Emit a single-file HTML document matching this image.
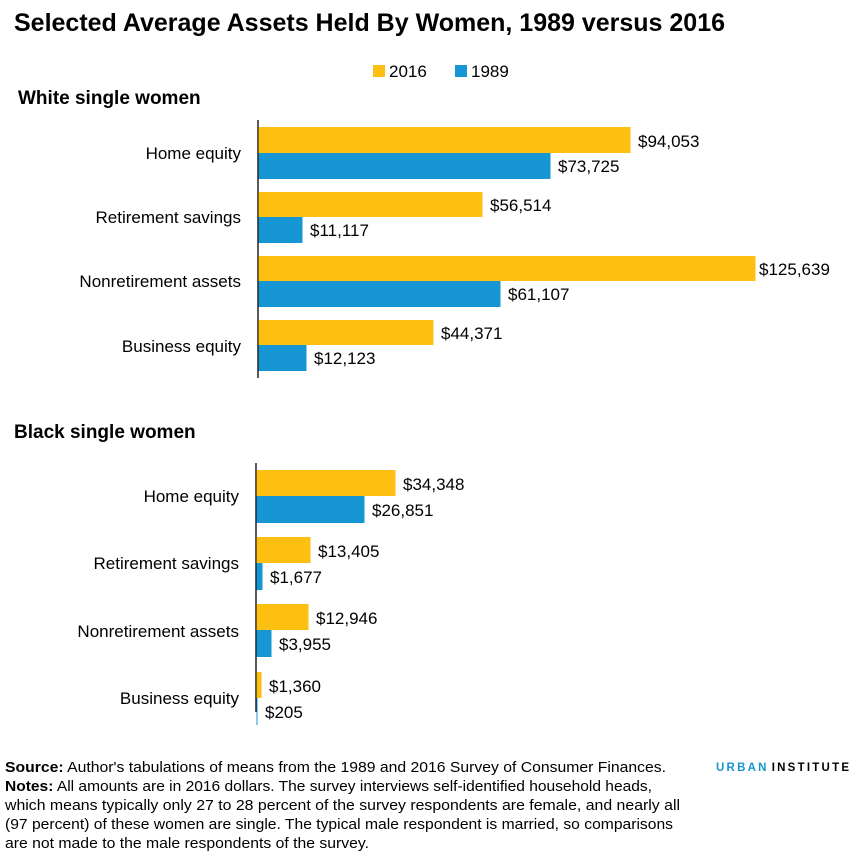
<!DOCTYPE html>
<html><head><meta charset="utf-8"><style>
body{margin:0;background:#fff;}
svg text{font-family:"Liberation Sans",sans-serif;}
</style></head><body>
<svg width="859" height="863" xmlns="http://www.w3.org/2000/svg">
<text x="14" y="31" font-size="25" font-weight="bold" fill="#000">Selected Average Assets Held By Women, 1989 versus 2016</text>
<rect x="373" y="65" width="12" height="12" fill="#fdbf11"/><text x="389" y="77" font-size="17">2016</text>
<rect x="455" y="65" width="12" height="12" fill="#1696d2"/><text x="471" y="77" font-size="17">1989</text>
<text x="18" y="104" font-size="19" font-weight="bold">White single women</text>
<g font-size="17" fill="#000">
<line x1="258" y1="120" x2="258" y2="378" stroke="#000" stroke-width="1.3"/>
<rect x="258.5" y="127" width="372" height="26" fill="#fdbf11"/><rect x="258.5" y="153" width="292" height="26" fill="#1696d2"/>
<text x="638" y="147">$94,053</text><text x="558" y="172">$73,725</text>
<text x="241" y="159" text-anchor="end">Home equity</text>
<rect x="258.5" y="192" width="224" height="25" fill="#fdbf11"/><rect x="258.5" y="217" width="44" height="26" fill="#1696d2"/>
<text x="490" y="211">$56,514</text><text x="310" y="236">$11,117</text>
<text x="241" y="223" text-anchor="end">Retirement savings</text>
<rect x="258.5" y="256" width="497" height="25" fill="#fdbf11"/><rect x="258.5" y="281" width="242" height="26" fill="#1696d2"/>
<text x="759" y="275">$125,639</text><text x="508" y="300">$61,107</text>
<text x="241" y="287" text-anchor="end">Nonretirement assets</text>
<rect x="258.5" y="320" width="175" height="25" fill="#fdbf11"/><rect x="258.5" y="345" width="48" height="26" fill="#1696d2"/>
<text x="441" y="339">$44,371</text><text x="314" y="364">$12,123</text>
<text x="241" y="352" text-anchor="end">Business equity</text>
</g>
<text x="14" y="438" font-size="19" font-weight="bold">Black single women</text>
<g font-size="17" fill="#000">
<line x1="256" y1="463" x2="256" y2="712" stroke="#000" stroke-width="1.3"/>
<rect x="256.5" y="470" width="139" height="26" fill="#fdbf11"/><rect x="256.5" y="496" width="108" height="27" fill="#1696d2"/>
<text x="403" y="490">$34,348</text><text x="372" y="516">$26,851</text>
<text x="239" y="502" text-anchor="end">Home equity</text>
<rect x="256.5" y="537" width="54" height="26" fill="#fdbf11"/><rect x="256.5" y="563" width="6" height="27" fill="#1696d2"/>
<text x="318" y="557">$13,405</text><text x="270" y="583">$1,677</text>
<text x="239" y="569" text-anchor="end">Retirement savings</text>
<rect x="256.5" y="604" width="52" height="26" fill="#fdbf11"/><rect x="256.5" y="630" width="15" height="27" fill="#1696d2"/>
<text x="316" y="624">$12,946</text><text x="279" y="650">$3,955</text>
<text x="239" y="637" text-anchor="end">Nonretirement assets</text>
<rect x="256.5" y="672" width="5" height="26" fill="#fdbf11"/><rect x="256.5" y="698" width="1" height="27" fill="#1696d2"/>
<text x="269" y="692">$1,360</text><text x="265" y="718">$205</text>
<text x="239" y="704" text-anchor="end">Business equity</text>
</g>
<g font-size="15" fill="#000">
<text x="5" y="772" textLength="661" lengthAdjust="spacingAndGlyphs"><tspan font-weight="bold">Source:</tspan> Author's tabulations of means from the 1989 and 2016 Survey of Consumer Finances.</text>
<text x="5" y="791" textLength="647" lengthAdjust="spacingAndGlyphs"><tspan font-weight="bold">Notes:</tspan> All amounts are in 2016 dollars. The survey interviews self-identified household heads,</text>
<text x="5" y="810" textLength="675" lengthAdjust="spacingAndGlyphs">which means typically only 27 to 28 percent of the survey respondents are female, and nearly all</text>
<text x="5" y="829" textLength="668" lengthAdjust="spacingAndGlyphs">(97 percent) of these women are single. The typical male respondent is married, so comparisons</text>
<text x="5" y="848" textLength="364" lengthAdjust="spacingAndGlyphs">are not made to the male respondents of the survey.</text>
</g>
<text x="716" y="771" font-size="11.5" font-weight="bold" textLength="133" lengthAdjust="spacing"><tspan fill="#1696d2">URBAN</tspan><tspan fill="#000" dx="3">INSTITUTE</tspan></text>
</svg>
</body></html>
